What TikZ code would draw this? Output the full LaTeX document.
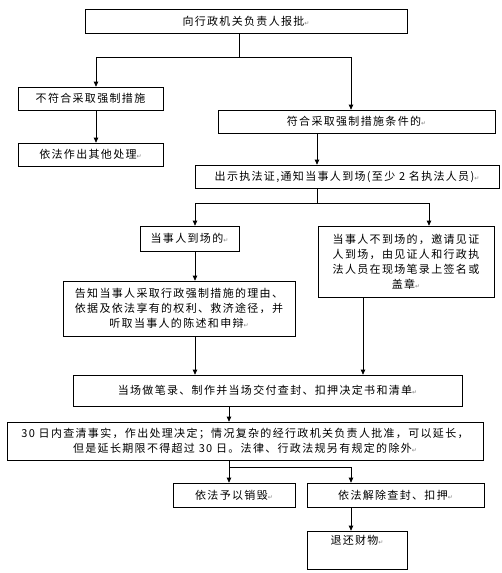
\documentclass[tikz,border=0pt]{standalone}
\usepackage{fontspec}
\usetikzlibrary{arrows.meta,calc}
\newfontfamily\cjk{Noto Sans CJK SC}[LetterSpace=12]
\newfontfamily\dvs{DejaVu Sans}
\newcommand{\rmk}{{\dvs\fontsize{6}{6}\selectfont\textcolor{gray}{↵}}}
\begin{document}
\begin{tikzpicture}[x=1pt,y=-1pt,
  box/.style={draw=black,line width=0.7pt,rectangle,inner sep=1pt,align=center,
    font=\cjk\fontsize{11}{15}\selectfont},
  link/.style={draw=black,line width=0.7pt},
  arr/.style={link,-{Triangle[length=5pt,width=4.5pt]}}]
\useasboundingbox (0,0) rectangle (501,573);
% boxes
\node[box,minimum width=322pt,minimum height=24pt] (b1) at (246,21.5) {向行政机关负责人报批\rmk};
\node[box,minimum width=145pt,minimum height=23pt] (b2) at (90.5,98.5) {不符合采取强制措施};
\node[box,minimum width=277pt,minimum height=23pt] (b3) at (356.5,121.5) {符合采取强制措施条件的\rmk};
\node[box,minimum width=145pt,minimum height=23pt] (b4) at (90.5,154.5) {依法作出其他处理\rmk};
\node[box,minimum width=304pt,minimum height=23pt] (b5) at (347,176.5) {出示执法证,通知当事人到场(至少 2 名执法人员)\rmk};
\node[box,minimum width=99pt,minimum height=25pt] (b6) at (189.5,238.5) {当事人到场的\rmk};
\node[box,minimum width=176pt,minimum height=71pt] (b7) at (406,261.5) {当事人不到场的，邀请见证\\人到场，由见证人和行政执\\法人员在现场笔录上签名或\\盖章\rmk};
\node[box,minimum width=232pt,minimum height=55pt] (b8) at (179,308.5) {告知当事人采取行政强制措施的理由、\\依据及依法享有的权利、救济途径，并\\听取当事人的陈述和申辩\rmk};
\node[box,minimum width=389pt,minimum height=31pt] (b9) at (267.5,390.5) {当场做笔录、制作并当场交付查封、扣押决定书和清单\rmk};
\node[box,minimum width=476pt,minimum height=38pt] (b10) at (245,441) {30 日内查清事实，作出处理决定；情况复杂的经行政机关负责人批准，可以延长，\\但是延长期限不得超过 30 日。法律、行政法规另有规定的除外\rmk};
\node[box,minimum width=122pt,minimum height=24pt] (b11) at (234,495) {依法予以销毁\rmk};
\node[box,minimum width=177pt,minimum height=24pt] (b12) at (395.5,495) {依法解除查封、扣押\rmk};
\node[box,minimum width=100pt,minimum height=38pt] (b13) at (357,550) {退还财物\rmk\\\strut};
% junctions
\coordinate (j1) at (239,57);
\coordinate (xl1) at (96,57);
\coordinate (xr1) at (351,57);
\coordinate (x317) at (317,0);
\coordinate (j2) at (317,203);
\coordinate (xl2) at (195,203);
\coordinate (xr2) at (429,203);
\coordinate (x363) at (363,0);
\coordinate (j3) at (229,467);
\coordinate (xr3) at (351,467);
% connectors
\draw[link] (b1.south -| j1) -- (j1);
\draw[link] (xl1) -- (xr1);
\draw[arr] (xl1) -- (b2.north -| xl1);
\draw[arr] (xr1) -- (b3.north -| xr1);
\draw[arr] (b2.south -| xl1) -- (b4.north -| xl1);
\draw[arr] (b3.south -| x317) -- (b5.north -| x317);
\draw[link] (b5.south -| j2) -- (j2);
\draw[link] (xl2) -- (xr2);
\draw[arr] (xl2) -- (b6.north -| xl2);
\draw[arr] (xr2) -- (b7.north -| xr2);
\draw[arr] (b6.south -| xl2) -- (b8.north -| xl2);
\draw[arr] (b8.south -| xl2) -- (b9.north -| xl2);
\draw[arr] (b7.south -| x363) -- (b9.north -| x363);
\draw[arr] (b9.south -| j3) -- (b10.north -| j3);
\draw[link] (b10.south -| j3) -- (j3) -- (xr3);
\draw[arr] (j3) -- (b11.north -| j3);
\draw[arr] (xr3) -- (b12.north -| xr3);
\draw[arr] (b12.south -| xr3) -- (b13.north -| xr3);
\end{tikzpicture}
\end{document}
